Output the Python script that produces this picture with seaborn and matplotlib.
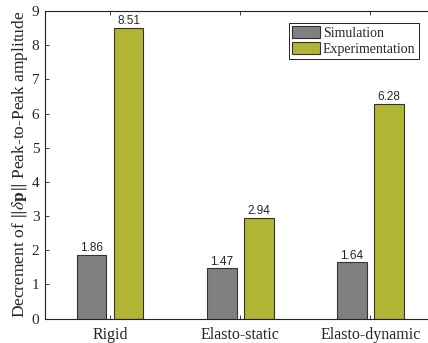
import matplotlib
matplotlib.use("Agg")
import matplotlib.pyplot as plt
import seaborn as sns
import pandas as pd

# Data
categories = ["Rigid", "Elasto-static", "Elasto-dynamic"]
simulation = [1.86, 1.47, 1.64]
experimentation = [8.51, 2.94, 6.28]
series_names = ["Simulation", "Experimentation"]
series_colors = ["#808080", "#b2b434"]
yticks = list(range(0, 10))

df = pd.DataFrame({
    "case": categories * 2,
    "value": simulation + experimentation,
    "series": [series_names[0]] * 3 + [series_names[1]] * 3,
})

sns.set_theme(style="white")
plt.rcParams["font.family"] = ["Liberation Serif", "DejaVu Serif"]
plt.rcParams["mathtext.fontset"] = "stix"

fig = plt.figure(figsize=(4.28, 3.43), dpi=100)
W, H = 428, 343
ax = fig.add_axes([45 / W, (H - 318.5) / H, (435.5 - 45) / W, 307.5 / H])

sns.barplot(data=df, x="case", y="value", hue="series", order=categories,
            hue_order=series_names, palette=series_colors, width=0.57,
            gap=0.2, saturation=1, edgecolor="#333333", linewidth=0.8,
            errorbar=None, ax=ax)

ax.set_xlim(-0.5, 2.5)
ax.set_ylim(0, 9)
ax.set_yticks(yticks)
ax.set_yticklabels([str(t) for t in yticks])

# value labels above every bar
for cont in ax.containers:
    ax.bar_label(cont, labels=[f"{v:.2f}" for v in cont.datavalues],
                 padding=0.5, fontsize=8.5, family="Liberation Sans")

ax.set_xlabel("")
ax.set_ylabel(r"Decrement of $\|\delta\mathbf{p}\|$ Peak-to-Peak amplitude",
              fontsize=12.5, labelpad=1)

for s in ax.spines.values():
    s.set_visible(True)
    s.set_color("#222222")
    s.set_linewidth(0.8)

ax.tick_params(axis="both", direction="in", length=3, width=0.6,
               color="#222222", labelsize=11, top=True, right=True,
               bottom=True, left=True, pad=4)
ax.tick_params(axis="x", pad=6, labelsize=11.5)

leg = ax.legend(loc="upper right", bbox_to_anchor=(419 / W, (H - 22.5) / H),
                bbox_transform=fig.transFigure, fontsize=10, frameon=True,
                fancybox=False, edgecolor="#222222", framealpha=1,
                borderpad=0.25, labelspacing=0.2, handlelength=2.0,
                handleheight=0.9, handletextpad=0.2, borderaxespad=0)
leg.get_frame().set_linewidth(0.7)

fig.savefig("out.png", dpi=100)
